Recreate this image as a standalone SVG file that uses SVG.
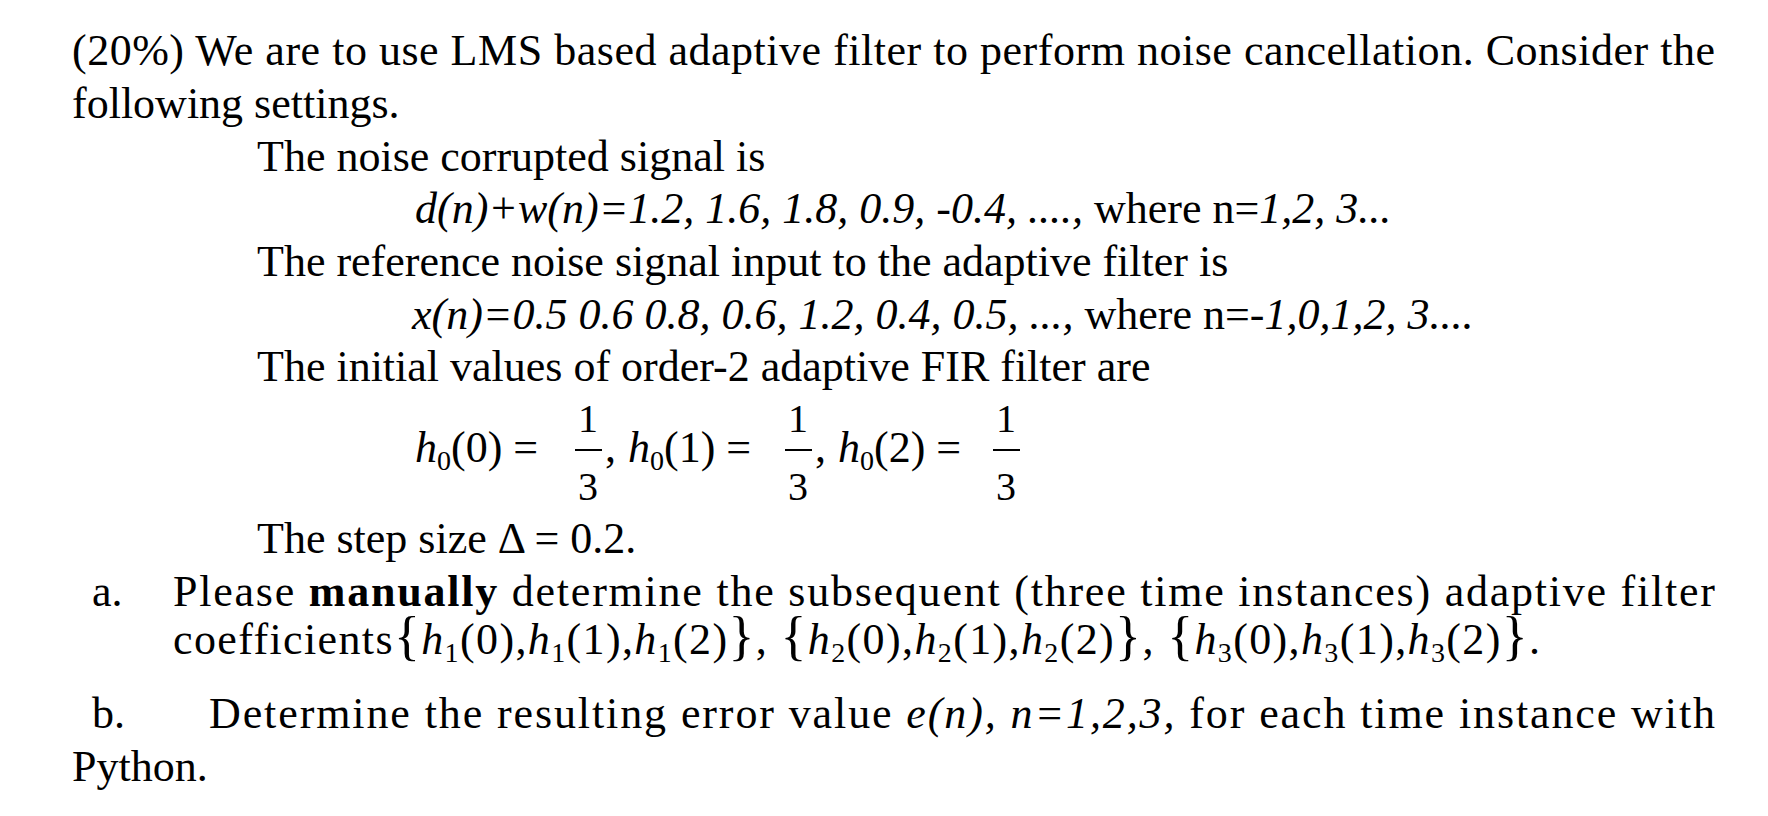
<svg xmlns="http://www.w3.org/2000/svg" width="1768" height="816" viewBox="0 0 1768 816">
<style>
text{font-family:"Liberation Serif","Times New Roman",serif;font-size:44px;fill:#000}
.i{font-style:italic}
.s{font-size:28px}
.b{font-size:54px}
.f{font-size:40px}
</style>
<rect width="1768" height="816" fill="#fff"/>
<text x="72" y="65" textLength="1643" lengthAdjust="spacing">(20%) We are to use LMS based adaptive filter to perform noise cancellation. Consider the</text>
<text x="72" y="118">following settings.</text>
<text x="257" y="171">The noise corrupted signal is</text>
<text x="415" y="223"><tspan class="i">d(n)+w(n)=1.2, 1.6, 1.8, 0.9, -0.4, ....,</tspan> where n=<tspan class="i">1,2, 3...</tspan></text>
<text x="257" y="276">The reference noise signal input to the adaptive filter is</text>
<text x="412" y="329"><tspan class="i">x(n)=0.5 0.6 0.8, 0.6, 1.2, 0.4, 0.5, ...,</tspan> where n=<tspan class="i">-1,0,1,2, 3....</tspan></text>
<text x="257" y="381">The initial values of order-2 adaptive FIR filter are</text>
<g id="eq">
<text x="415" y="462"><tspan class="i">h</tspan><tspan class="s" dy="8">0</tspan><tspan dy="-8">(0) =</tspan></text>
<text class="f" x="578" y="432">1</text><line x1="575" y1="450" x2="602" y2="450" stroke="#000" stroke-width="2"/><text class="f" x="578" y="500">3</text>
<text x="605" y="462">,</text>
<text x="628" y="462"><tspan class="i">h</tspan><tspan class="s" dy="8">0</tspan><tspan dy="-8">(1) =</tspan></text>
<text class="f" x="788" y="432">1</text><line x1="785" y1="450" x2="812" y2="450" stroke="#000" stroke-width="2"/><text class="f" x="788" y="500">3</text>
<text x="815" y="462">,</text>
<text x="838" y="462"><tspan class="i">h</tspan><tspan class="s" dy="8">0</tspan><tspan dy="-8">(2) =</tspan></text>
<text class="f" x="996" y="432">1</text><line x1="993" y1="450" x2="1020" y2="450" stroke="#000" stroke-width="2"/><text class="f" x="996" y="500">3</text>
</g>
<text x="257" y="553">The step size Δ = 0.2.</text>
<text x="92" y="606">a.</text>
<text x="173" y="606" textLength="1542" lengthAdjust="spacing">Please <tspan font-weight="bold">manually</tspan> determine the subsequent (three time instances) adaptive filter</text>
<text x="173" y="654" textLength="1367" lengthAdjust="spacing">coefficients<tspan class="b">{</tspan><tspan class="i">h</tspan><tspan class="s" dy="8">1</tspan><tspan dy="-8">(0),</tspan><tspan class="i">h</tspan><tspan class="s" dy="8">1</tspan><tspan dy="-8">(1),</tspan><tspan class="i">h</tspan><tspan class="s" dy="8">1</tspan><tspan dy="-8">(2)</tspan><tspan class="b">}</tspan>, <tspan class="b">{</tspan><tspan class="i">h</tspan><tspan class="s" dy="8">2</tspan><tspan dy="-8">(0),</tspan><tspan class="i">h</tspan><tspan class="s" dy="8">2</tspan><tspan dy="-8">(1),</tspan><tspan class="i">h</tspan><tspan class="s" dy="8">2</tspan><tspan dy="-8">(2)</tspan><tspan class="b">}</tspan>, <tspan class="b">{</tspan><tspan class="i">h</tspan><tspan class="s" dy="8">3</tspan><tspan dy="-8">(0),</tspan><tspan class="i">h</tspan><tspan class="s" dy="8">3</tspan><tspan dy="-8">(1),</tspan><tspan class="i">h</tspan><tspan class="s" dy="8">3</tspan><tspan dy="-8">(2)</tspan><tspan class="b">}</tspan>.</text>
<text x="92" y="728">b.</text>
<text x="209" y="728" textLength="1506" lengthAdjust="spacing">Determine the resulting error value <tspan class="i">e(n),</tspan> <tspan class="i">n=1,2,3,</tspan> for each time instance with</text>
<text x="72" y="781">Python.</text>
</svg>
